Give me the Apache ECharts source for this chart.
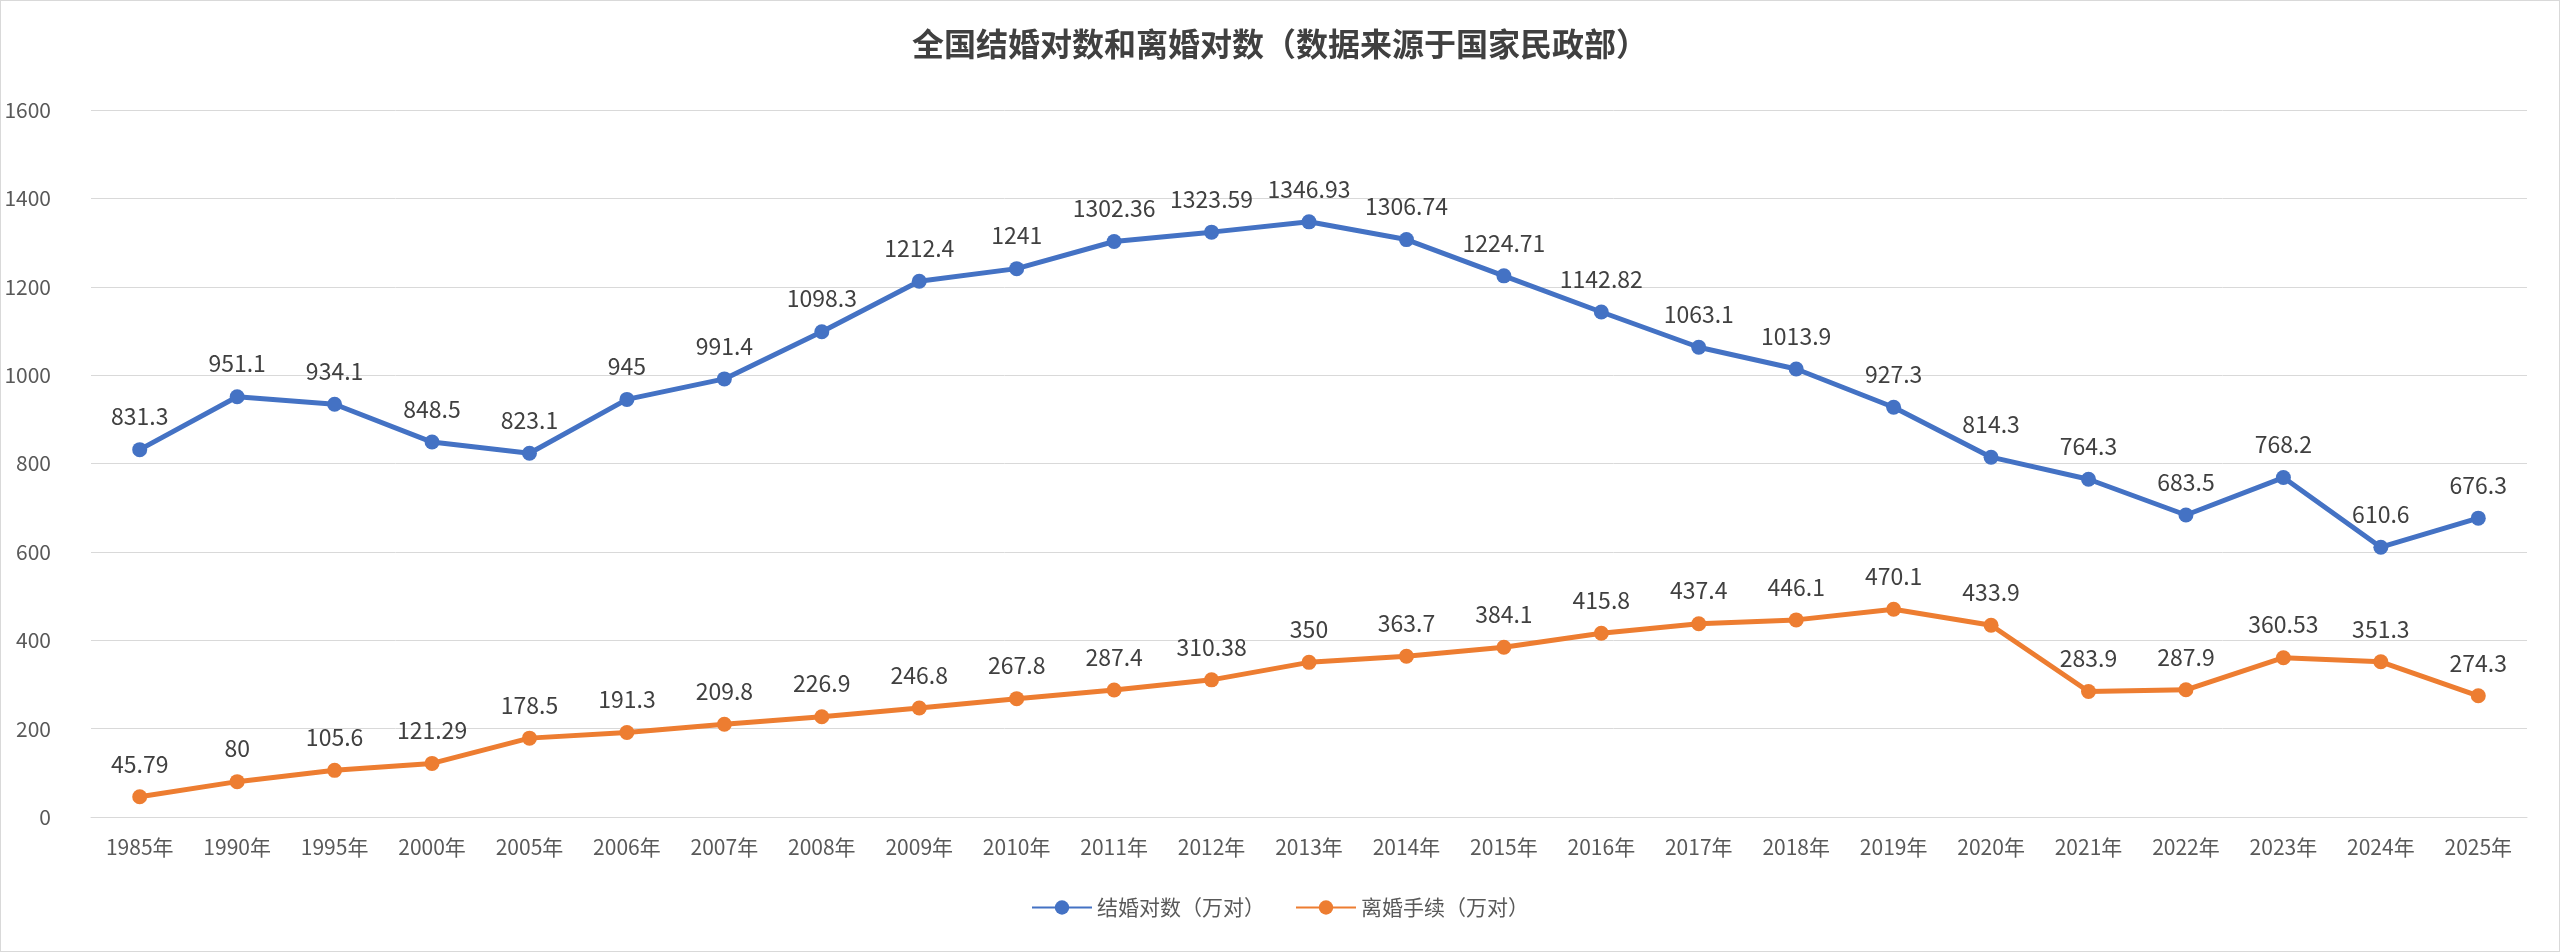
<!DOCTYPE html>
<html>
<head>
<meta charset="UTF-8" />
<script src="https://cdn.jsdelivr.net/npm/echarts@6/dist/echarts.min.js"></script>
<style>
  html, body { margin: 0; padding: 0; background: #fff; }
  #main { width: 2560px; height: 952px; border: 1px solid #d9d9d9; box-sizing: border-box; }
</style>
</head>
<body>
<div id="main"></div>
<script>
  // 年份
  const years = ["1985年", "1990年", "1995年", "2000年", "2005年", "2006年", "2007年", "2008年", "2009年",
    "2010年", "2011年", "2012年", "2013年", "2014年", "2015年", "2016年", "2017年", "2018年", "2019年",
    "2020年", "2021年", "2022年", "2023年", "2024年", "2025年"];
  // 结婚对数（万对）
  const marriage = [831.3, 951.1, 934.1, 848.5, 823.1, 945, 991.4, 1098.3, 1212.4, 1241, 1302.36, 1323.59,
    1346.93, 1306.74, 1224.71, 1142.82, 1063.1, 1013.9, 927.3, 814.3, 764.3, 683.5, 768.2, 610.6, 676.3];
  // 离婚手续（万对）
  const divorce = [45.79, 80, 105.6, 121.29, 178.5, 191.3, 209.8, 226.9, 246.8, 267.8, 287.4, 310.38, 350,
    363.7, 384.1, 415.8, 437.4, 446.1, 470.1, 433.9, 283.9, 287.9, 360.53, 351.3, 274.3];

  const font = "'Microsoft YaHei', 'Noto Sans CJK SC', sans-serif";
  const chart = echarts.init(document.getElementById("main"));
  const lbl = { show: true, position: "top", distance: 14, fontSize: 23, color: "#404040", fontFamily: font };
  chart.setOption({
    animation: false,
    title: {
      text: "全国结婚对数和离婚对数（数据来源于国家民政部）",
      left: "center", top: 22,
      textStyle: { fontSize: 32, fontWeight: "bold", color: "#404040", fontFamily: font }
    },
    legend: {
      bottom: 28, itemWidth: 60, itemHeight: 18, itemGap: 30,
      textStyle: { fontSize: 21, color: "#595959", fontFamily: font }
    },
    grid: { left: 90, right: 32, top: 109, bottom: 134 },
    xAxis: {
      type: "category", data: years, boundaryGap: true,
      axisTick: { show: false },
      axisLine: { lineStyle: { color: "#d9d9d9" } },
      axisLabel: { fontSize: 21, color: "#595959", fontFamily: font, margin: 20 }
    },
    yAxis: {
      type: "value", min: 0, max: 1600, interval: 200,
      axisLabel: { fontSize: 21, color: "#595959", fontFamily: font, margin: 40, formatter: v => String(v) },
      splitLine: { lineStyle: { color: "#d9d9d9" } }
    },
    series: [
      { name: "结婚对数（万对）", type: "line", data: marriage, symbol: "circle", symbolSize: 15,
        itemStyle: { color: "#4472c4" }, lineStyle: { width: 5 }, label: lbl },
      { name: "离婚手续（万对）", type: "line", data: divorce, symbol: "circle", symbolSize: 15,
        itemStyle: { color: "#ed7d31" }, lineStyle: { width: 5 }, label: lbl }
    ]
  });
</script>
</body>
</html>
